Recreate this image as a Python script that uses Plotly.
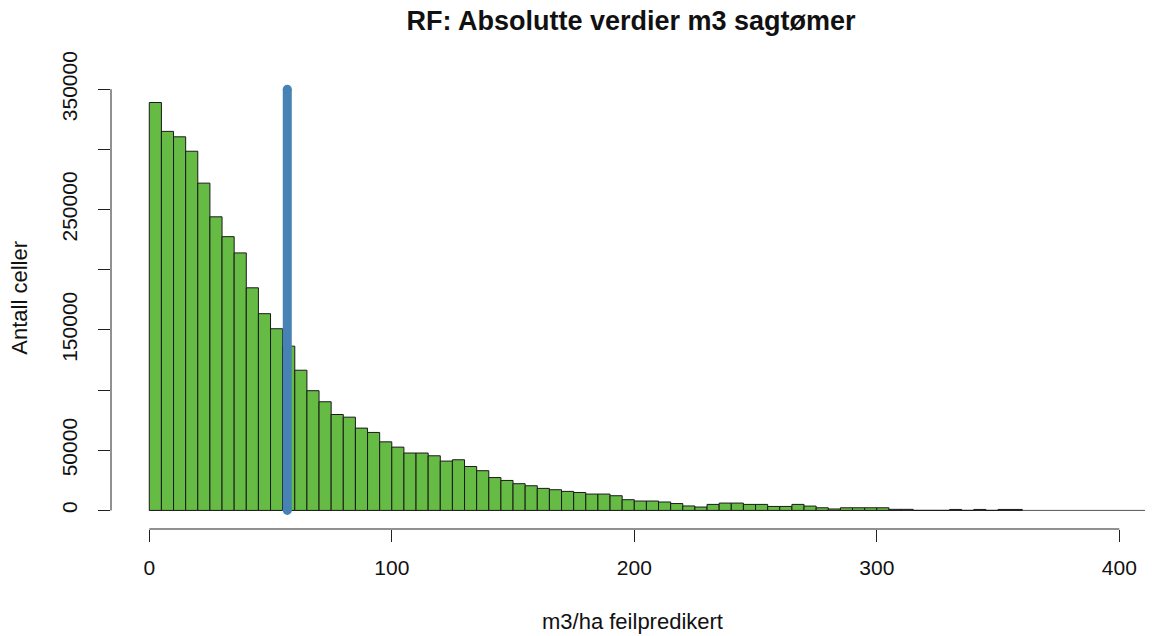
import plotly.graph_objects as go

FONT = "Liberation Sans, Arial, sans-serif"

# histogram: bins of 5 m3/ha, counts
BIN_WIDTH = 5
COUNTS = [
    339000, 315000, 310500, 298500, 272000, 244000, 227500, 214000, 185000, 163500,
    151000, 136500, 116500, 99500, 90300, 79700, 77500, 68400, 64800, 57000,
    52600, 47700, 47700, 45400, 41000, 42100, 36500, 33000, 27300, 24900,
    22200, 20500, 18300, 17200, 15800, 14900, 13600, 13600, 12200, 8900,
    7800, 7800, 7000, 5700, 3700, 2800, 5000, 6100, 6100, 5000,
    5000, 3300, 3300, 5000, 3600, 2200, 1200, 2200, 2200, 2200,
    2200, 900, 900, 0, 0, 0, 800, 0, 800, 0,
    800, 800,
]
BIN_CENTERS = [BIN_WIDTH * i + BIN_WIDTH / 2 for i in range(len(COUNTS))]

MEAN_ERROR = 56.9
LINE_TOP = 350000

X_TICKS = [0, 100, 200, 300, 400]
Y_TICKS = [0, 50000, 100000, 150000, 200000, 250000, 300000, 350000]
Y_TICKTEXT = ["0", "50000", "", "150000", "", "250000", "", "350000"]

fig = go.Figure()
fig.add_trace(go.Bar(
    x=BIN_CENTERS,
    y=COUNTS,
    width=BIN_WIDTH,
    marker=dict(color="#66BB44", line=dict(color="#1a1a1a", width=1)),
    hoverinfo="x+y",
))
fig.add_trace(go.Scatter(
    x=[MEAN_ERROR, MEAN_ERROR],
    y=[0, LINE_TOP],
    mode="lines+markers",
    line=dict(color="#4682B4", width=9),
    marker=dict(color="#4682B4", size=9),
))

# zero baseline of empty bins
fig.add_shape(type="line", xref="x", yref="y", x0=0, x1=410.6, y0=0, y1=0,
              line=dict(color="#555555", width=1), layer="below")
# R-style axis lines
fig.add_shape(type="line", xref="paper", yref="y", x0=0, x1=0, y0=0, y1=350000,
              line=dict(color="#222222", width=1))
fig.add_shape(type="line", xref="x", yref="paper", x0=0, x1=400, y0=0, y1=0,
              line=dict(color="#222222", width=1))

fig.update_layout(
    width=1152,
    height=636,
    template="plotly_white",
    plot_bgcolor="white",
    paper_bgcolor="white",
    showlegend=False,
    margin=dict(l=111, r=7, t=50, b=107),
    font=dict(family=FONT, color="#111111", size=21),
    title=dict(
        text="<b>RF: Absolutte verdier m3 sagtømer</b>",
        xref="container", x=631 / 1152, xanchor="center",
        yref="container", y=1 - 21 / 636, yanchor="middle",
        font=dict(family=FONT, size=27, color="#111111"),
    ),
    annotations=[
        dict(text="Antall celler", xref="paper", yref="paper", x=-0.088, y=0.483,
             xanchor="center", yanchor="middle",
             textangle=-90, showarrow=False, font=dict(size=22, family=FONT)),
        dict(text="m3/ha feilpredikert", xref="paper", yref="paper", x=0.504, y=-0.193,
             xanchor="center", yanchor="middle", showarrow=False, font=dict(size=22, family=FONT)),
    ],
)
fig.update_xaxes(
    range=[-15.79, 410.6],
    tickvals=X_TICKS,
    ticks="outside",
    ticklen=12,
    tickcolor="#222222",
    showline=False,
    showgrid=False,
    zeroline=False,
    ticklabelstandoff=8,
    tickfont=dict(size=21, family=FONT),
)
fig.update_yaxes(
    range=[-15448, 382640],
    tickvals=Y_TICKS,
    ticktext=Y_TICKTEXT,
    tickangle=-90,
    ticks="outside",
    ticklen=12,
    tickcolor="#222222",
    showline=False,
    showgrid=False,
    zeroline=False,
    ticklabelstandoff=13,
    tickfont=dict(size=21, family=FONT),
)

fig.write_html(
    "out.html",
    config={"displayModeBar": False},
    post_script="document.body.style.margin='0';document.body.style.overflow='hidden';",
)
